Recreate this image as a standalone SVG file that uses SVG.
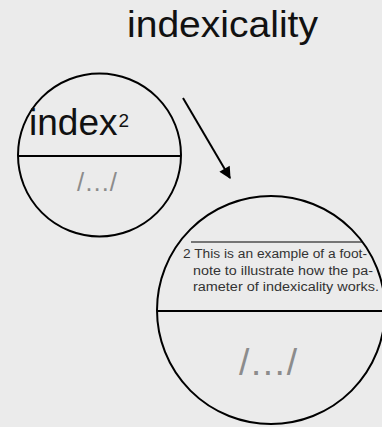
<svg xmlns="http://www.w3.org/2000/svg" width="382" height="427" viewBox="0 0 382 427">
<style>
.bg{fill:#ebebeb}
.c{fill:none;stroke:#000;stroke-width:2}
.t{font-family:"Liberation Sans",Arial,sans-serif;fill:#111}
.g{font-family:"Liberation Sans",Arial,sans-serif;fill:#8c8c8c}
.fn{font-family:"Liberation Sans",Arial,sans-serif;fill:#333;font-size:13.7px}
</style>
<defs>
<marker id="ah" viewBox="0 0 10 10" refX="9" refY="5" markerWidth="7" markerHeight="6" orient="auto" markerUnits="strokeWidth">
<path d="M0,0 L10,5 L0,10 z" fill="#000"/>
</marker>
</defs>
<rect class="bg" x="0" y="0" width="382" height="427"/>
<text id="title" class="t" x="127" y="37" font-size="36" textLength="191" lengthAdjust="spacingAndGlyphs">indexicality</text>
<g id="index-node">
<circle class="c" cx="99.5" cy="155" r="81.5"/>
<line class="c" x1="18" y1="156" x2="181" y2="156" stroke-width="2.5"/>
<text class="t" x="29" y="135" font-size="37">index</text>
<text class="t" x="118.5" y="127" font-size="19">2</text>
<text class="g" x="77" y="191" font-size="26" textLength="40" lengthAdjust="spacingAndGlyphs">/…/</text>
</g>
<g id="footnote-node">
<circle class="c" cx="271" cy="310" r="114"/>
<line class="c" x1="157" y1="311" x2="385" y2="311" stroke-width="2.5"/>
<line x1="191" y1="242" x2="362" y2="242" stroke="#000" stroke-width="1.2"/>
<text class="fn" x="183" y="258" textLength="184" lengthAdjust="spacingAndGlyphs">2 This is an example of a foot-</text>
<text class="fn" x="193" y="274.5" textLength="180" lengthAdjust="spacingAndGlyphs">note to illustrate how the pa-</text>
<text class="fn" x="193" y="291" textLength="186" lengthAdjust="spacingAndGlyphs">rameter of indexicality works.</text>
<text class="g" x="239" y="375" font-size="36" textLength="58" lengthAdjust="spacingAndGlyphs">/…/</text>
</g>
<g id="connectors">
<line x1="183" y1="98" x2="230" y2="178" stroke="#000" stroke-width="2" marker-end="url(#ah)"/>
</g>
</svg>
